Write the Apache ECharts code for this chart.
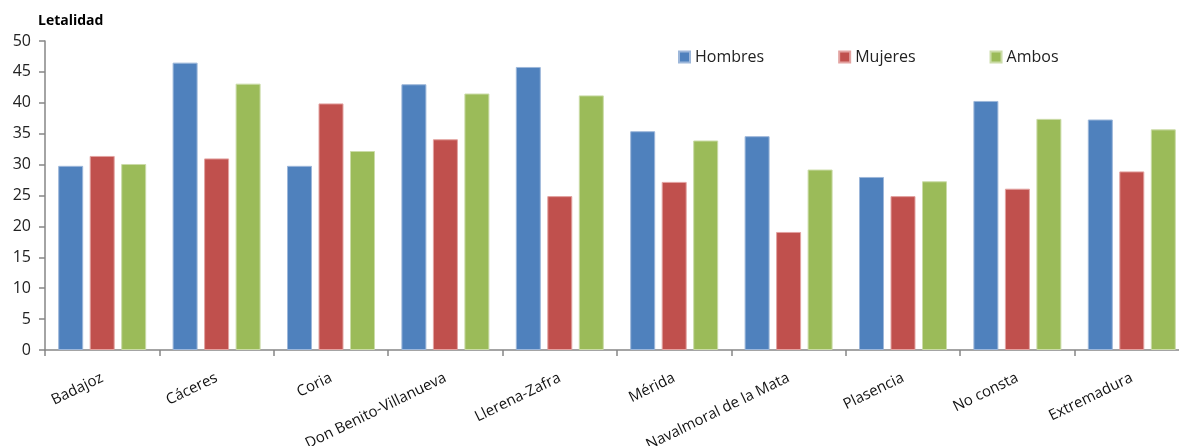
<!DOCTYPE html>
<html>
<head>
<meta charset="utf-8">
<script src="https://cdn.jsdelivr.net/npm/echarts@6/dist/echarts.min.js"></script>
<style>
html,body{margin:0;padding:0;background:#fff;}
#chart{width:1179px;height:446px;}
</style>
</head>
<body>
<div id="chart"></div>
<script>
var categories = ['Badajoz','Cáceres','Coria','Don Benito-Villanueva','Llerena-Zafra','Mérida','Navalmoral de la Mata','Plasencia','No consta','Extremadura'];
var hombres = [29.8, 46.5, 29.8, 43.0, 45.8, 35.4, 34.6, 28.0, 40.3, 37.3];
var mujeres = [31.4, 31.0, 39.9, 34.1, 24.9, 27.2, 19.1, 24.9, 26.1, 28.9];
var ambos   = [30.1, 43.1, 32.2, 41.5, 41.2, 33.9, 29.2, 27.3, 37.4, 35.7];
var yTicks = [0, 5, 10, 15, 20, 25, 30, 35, 40, 45, 50];

var font = 'Open Sans, Noto Sans, sans-serif';
var chart = echarts.init(document.getElementById('chart'));
chart.setOption({
  animation: false,
  title: {
    text: 'Letalidad', left: 33, top: 9,
    textStyle: {fontFamily: font, fontSize: 14, fontWeight: 'bold', color: '#000'}
  },
  legend: {
    left: 673, top: 44, icon: 'rect', itemWidth: 11, itemHeight: 11, itemGap: 74,
    textStyle: {fontFamily: font, fontSize: 16, color: '#222'},
    data: ['Hombres','Mujeres','Ambos']
  },
  grid: {left: 45, top: 41, width: 1144, bottom: 96, containLabel: false, outerBoundsMode: 'none'},
  xAxis: {
    type: 'category', data: categories,
    axisLine: {lineStyle: {color: '#868686', width: 1.5}},
    axisTick: {show: true, length: 6, alignWithLabel: false, lineStyle: {color: '#868686', width: 1.5}},
    axisLabel: {rotate: 26, interval: 0, margin: 27, fontFamily: font, fontSize: 15, color: '#111'}
  },
  yAxis: {
    type: 'value', min: yTicks[0], max: yTicks[yTicks.length-1], interval: 5,
    splitLine: {show: false},
    axisLine: {show: true, lineStyle: {color: '#868686', width: 1.5}},
    axisTick: {show: true, length: 6, lineStyle: {color: '#868686', width: 1.5}},
    axisLabel: {margin: 14, fontFamily: font, fontSize: 16, color: '#222'}
  },
  series: [
    {name: 'Hombres', type: 'bar', data: hombres, barWidth: 25, barGap: '26%',
      itemStyle: {color: '#4F81BD', borderColor: '#9db7da', borderWidth: 1}},
    {name: 'Mujeres', type: 'bar', data: mujeres, barWidth: 25, barGap: '26%',
      itemStyle: {color: '#C0504D', borderColor: '#e3a3a1', borderWidth: 1}},
    {name: 'Ambos', type: 'bar', data: ambos, barWidth: 25, barGap: '26%',
      itemStyle: {color: '#9BBB59', borderColor: '#cbdca8', borderWidth: 1}}
  ]
});
</script>
</body>
</html>
